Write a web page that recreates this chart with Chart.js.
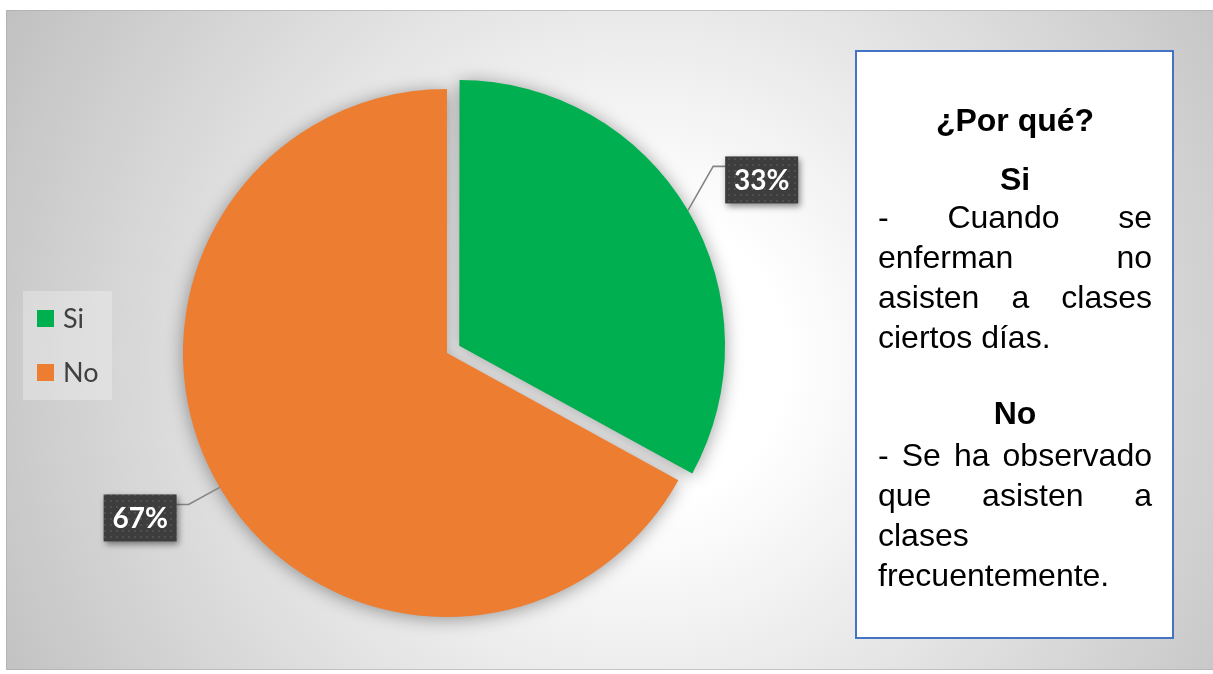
<!DOCTYPE html>
<html><head><meta charset="utf-8">
<script src="https://cdn.jsdelivr.net/npm/chart.js@4.4.0/dist/chart.umd.min.js"></script>
<style>html,body{margin:0;padding:0;background:#fff;overflow:hidden}#wrap{position:relative;width:1213px;height:674px}</style>
</head><body><div id="wrap"><canvas id="c" width="1213" height="674"></canvas></div>
<script>
const categories = ['Si', 'No'];
const percentValues = [33, 67];
const boxTitle = '¿Por qué?';
const reasonSiTitle = 'Si';
const reasonSi = ['- Cuando se', 'enferman no', 'asisten a clases', 'ciertos días.'];
const reasonNoTitle = 'No';
const reasonNo = ['- Se ha observado', 'que asisten a', 'clases', 'frecuentemente.'];

const bgPlugin = {
  id: 'bg',
  beforeDraw(chart) {
    const c = chart.ctx;
    c.save();
    c.fillStyle = '#ffffff';
    c.fillRect(0, 0, chart.width, chart.height);
    const g = c.createRadialGradient(640, 360, 0, 640, 360, 730);
    g.addColorStop(0, '#ffffff');
    g.addColorStop(0.2, '#ffffff');
    g.addColorStop(1, '#c0c0c0');
    c.fillStyle = g;
    c.fillRect(6, 10, 1207, 660);
    c.strokeStyle = 'rgba(170,170,170,0.6)';
    c.lineWidth = 1;
    c.strokeRect(6.5, 10.5, 1207, 659);
    c.restore();
  }
};

const shadowPlugin = {
  id: 'pieShadow',
  beforeDatasetsDraw(chart) {
    const c = chart.ctx;
    c.save();
    c.shadowColor = 'rgba(0,0,0,0.38)';
    c.shadowBlur = 18;
    c.shadowOffsetX = 0;
    c.shadowOffsetY = 2;
  },
  afterDatasetsDraw(chart) { chart.ctx.restore(); }
};

function makePattern(c) {
  const p = document.createElement('canvas');
  p.width = 6; p.height = 6;
  const pc = p.getContext('2d');
  pc.fillStyle = '#3d3d3d'; pc.fillRect(0, 0, 6, 6);
  pc.fillStyle = '#4f4f4f'; pc.fillRect(2, 2, 2, 2);
  return c.createPattern(p, 'repeat');
}

const labelPlugin = {
  id: 'sliceLabels',
  afterDraw(chart) {
    const c = chart.ctx;
    const meta = chart.getDatasetMeta(0);
    const data = chart.data.datasets[0].data;
    const total = data.reduce((a, b) => a + b, 0);
    const pat = makePattern(c);
    meta.data.forEach((arc, i) => {
      const p = arc.getProps(['x', 'y', 'startAngle', 'endAngle', 'outerRadius', 'circumference'], true);
      const off = (arc.options.offset || 0) / 4;
      const fix = 1 - Math.sin(Math.min(Math.PI, p.circumference || 0));
      const t = off * (1 + fix);
      const mid = (p.startAngle + p.endAngle) / 2;
      const dx = Math.cos(mid), dy = Math.sin(mid);
      const cx = p.x + dx * t, cy = p.y + dy * t;
      const ex = cx + dx * p.outerRadius, ey = cy + dy * p.outerRadius;
      const sign = dx >= 0 ? 1 : -1;
      const bx = ex + dx * 60 + sign * (sign > 0 ? 22 : 28), by = ey + dy * 60;
      const w = 73, h = 47;
      const left = bx - w / 2, top = by - h / 2;
      const nearX = sign > 0 ? left : left + w;
      c.save();
      c.strokeStyle = '#858585';
      c.lineWidth = 1.6;
      c.beginPath();
      c.moveTo(ex, ey);
      c.lineTo(nearX - sign * 12, top + 10);
      c.lineTo(nearX, top + 10);
      c.stroke();
      c.shadowColor = 'rgba(0,0,0,0.45)';
      c.shadowBlur = 6;
      c.shadowOffsetX = 2;
      c.shadowOffsetY = 3;
      c.fillStyle = pat;
      c.fillRect(left, top, w, h);
      c.shadowColor = 'transparent';
      c.fillStyle = '#ffffff';
      c.font = 'bold 28px Lato, "Open Sans", sans-serif';
      c.textAlign = 'center';
      c.textBaseline = 'middle';
      c.fillText(Math.round(data[i] / total * 100) + '%', bx, by + 1);
      c.restore();
    });
  }
};

const legendPlugin = {
  id: 'customLegend',
  afterDraw(chart) {
    const c = chart.ctx;
    const ds = chart.data.datasets[0];
    c.save();
    c.fillStyle = 'rgba(255,255,255,0.28)';
    c.fillRect(23, 291, 89, 109);
    c.font = '27px Lato, "Open Sans", sans-serif';
    c.textBaseline = 'middle';
    c.textAlign = 'left';
    chart.data.labels.forEach((lab, i) => {
      const y = 310 + 54 * i;
      c.fillStyle = ds.backgroundColor[i];
      c.fillRect(37, y, 17, 17);
      c.fillStyle = '#404040';
      c.fillText(lab, 63, y + 9);
    });
    c.restore();
  }
};

function drawJustified(c, text, left, right, y, justify) {
  const words = text.split(' ');
  if (!justify || words.length < 2) {
    c.textAlign = 'left';
    c.fillText(text, left, y);
    return;
  }
  const widths = words.map(wd => c.measureText(wd).width);
  const sum = widths.reduce((a, b) => a + b, 0);
  const gap = (right - left - sum) / (words.length - 1);
  let x = left;
  c.textAlign = 'left';
  words.forEach((wd, k) => { c.fillText(wd, x, y); x += widths[k] + gap; });
}

const textBoxPlugin = {
  id: 'textBox',
  afterDraw(chart) {
    const c = chart.ctx;
    c.save();
    c.fillStyle = '#ffffff';
    c.fillRect(856, 51, 317, 587);
    c.strokeStyle = '#4472c4';
    c.lineWidth = 2;
    c.strokeRect(856, 51, 317, 587);
    c.fillStyle = '#000000';
    c.textBaseline = 'alphabetic';
    const L = 878, R = 1152, C = (L + R) / 2;
    c.font = 'bold 32px "Liberation Sans", Arial, sans-serif';
    c.textAlign = 'center';
    c.fillText(boxTitle, C, 131);
    c.fillText(reasonSiTitle, C, 190);
    c.fillText(reasonNoTitle, C, 424);
    c.font = '32px "Liberation Sans", Arial, sans-serif';
    const siBase = [228, 268, 308, 348];
    reasonSi.forEach((ln, k) => drawJustified(c, ln, L, R, siBase[k], k < reasonSi.length - 1));
    const noBase = [466, 506, 546, 586];
    reasonNo.forEach((ln, k) => drawJustified(c, ln, L, R, noBase[k], k < reasonNo.length - 1));
    c.restore();
  }
};

new Chart(document.getElementById('c'), {
  type: 'pie',
  data: {
    labels: categories,
    datasets: [{
      data: percentValues,
      backgroundColor: ['#00b050', '#ed7d31'],
      borderWidth: 0,
      offset: [57, 0],
      hoverOffset: 0
    }]
  },
  options: {
    responsive: false,
    animation: false,
    events: [],
    radius: 264,
    layout: { padding: { left: 147, right: 466, top: 53, bottom: 21 } },
    plugins: { legend: { display: false }, tooltip: { enabled: false } }
  },
  plugins: [bgPlugin, shadowPlugin, labelPlugin, legendPlugin, textBoxPlugin]
});
</script></body></html>
